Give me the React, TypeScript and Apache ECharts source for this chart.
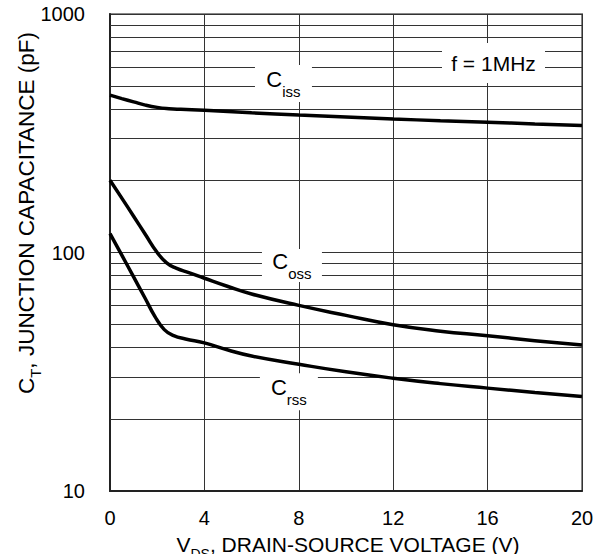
import React, { useEffect, useRef } from "react";
import * as echarts from "echarts";

const xTicks = [0, 4, 8, 12, 16, 20];
const yMajor = [10, 100, 1000];
const yMinor = [20, 30, 40, 50, 60, 70, 80, 90, 200, 300, 400, 500, 600, 700, 800, 900];

const cissX = [0, 0.5, 1, 1.5, 2, 2.5, 3, 4, 6, 8, 10, 12, 14, 16, 18, 20];
const cissY = [457, 442, 428, 415, 406, 401, 398.5, 395, 385, 377, 370, 363, 357, 352, 346, 341];

const cossX = [0, 0.5, 1, 1.5, 2, 2.4, 2.8, 3.4, 4, 5, 6, 8, 10, 12, 14, 16, 18, 20];
const cossY = [201, 169, 142, 119, 100, 90.5, 86, 82, 78, 72, 67, 60, 54.5, 49.8, 46.8, 44.8, 42.7, 40.9];

const crssX = [0, 0.5, 1, 1.5, 1.9, 2.3, 2.7, 3.2, 4, 5, 6, 8, 10, 12, 14, 16, 18, 20];
const crssY = [120, 97.5, 79, 64, 54, 47.5, 44.8, 43.4, 41.8, 39, 36.8, 34, 31.6, 29.7, 28.2, 27, 25.9, 24.9];

// annotation labels: [x, y] in data units
const labelCiss = [7.35, 511];
const labelCoss = [7.71, 88.2];
const labelCrss = [7.58, 26.1];
const labelFreq = [16.25, 623];

const zip = (xs: number[], ys: number[]) => xs.map((x, i) => [x, ys[i]]);

const subRich = {
  c: { fontSize: 22, lineHeight: 22, verticalAlign: "top", color: "#000", fontFamily: "Liberation Sans" },
  s: { fontSize: 15, lineHeight: 30, verticalAlign: "bottom", color: "#000", fontFamily: "Liberation Sans" },
};

function boxPoint(coord: number[], size: number[], text: string) {
  return {
    coord,
    symbol: "rect",
    symbolSize: size,
    itemStyle: { color: "#fff" },
    label: {
      show: true,
      position: "inside",
      formatter: text,
      rich: subRich,
      color: "#000",
      fontSize: 21,
      fontFamily: "Liberation Sans",
    },
  };
}

export default function App() {
  const ref = useRef<HTMLDivElement>(null);
  useEffect(() => {
    if (!ref.current) return;
    const chart = echarts.init(ref.current, undefined, { renderer: "svg" });
    const lineSeries = (name: string, data: number[][]) => ({
      name,
      type: "line",
      data,
      showSymbol: false,
      smooth: 0.5,
      lineStyle: { color: "#000", width: 3.5 },
      z: 3,
    });
    chart.setOption({
      animation: false,
      backgroundColor: "#fff",
      grid: {
        left: 110,
        right: 30,
        top: 14,
        bottom: 63,
        show: true,
        borderColor: "#888",
        borderWidth: 2,
      },
      xAxis: {
        type: "value",
        min: 0,
        max: 20,
        interval: 4,
        axisLine: { show: true, onZero: false, lineStyle: { color: "#222", width: 2 } },
        axisTick: { show: false },
        splitLine: { show: true, lineStyle: { color: "#333", width: 1 } },
        axisLabel: {
          color: "#000",
          fontSize: 20,
          fontFamily: "Liberation Sans",
          margin: 17,
          formatter: (v: number) => (xTicks.includes(v) ? String(v) : ""),
        },
      },
      yAxis: {
        type: "log",
        logBase: 10,
        min: 10,
        max: 1000,
        axisLine: { show: true, lineStyle: { color: "#222", width: 2 } },
        axisTick: { show: false },
        splitLine: { show: true, lineStyle: { color: "#333", width: 1 } },
        axisLabel: {
          color: "#000",
          fontSize: 20,
          fontFamily: "Liberation Sans",
          margin: 25,
          formatter: (v: number) => (yMajor.includes(Math.round(v)) ? String(Math.round(v)) : ""),
        },
      },
      graphic: [
        {
          type: "text",
          x: 29,
          y: 213,
          rotation: Math.PI / 2,
          style: {
            text: "{c|C}{s|T}{c|, JUNCTION CAPACITANCE (pF)}",
            align: "center",
            verticalAlign: "middle",
            rich: {
              c: { fontSize: 22.5, lineHeight: 22, verticalAlign: "top", fill: "#000", fontFamily: "Liberation Sans" },
              s: { fontSize: 15, lineHeight: 28, verticalAlign: "bottom", fill: "#000", fontFamily: "Liberation Sans" },
            },
          },
        },
        {
          type: "text",
          x: 348,
          y: 547,
          style: {
            text: "{c|V}{s|DS}{c|, DRAIN-SOURCE VOLTAGE (V)}",
            align: "center",
            verticalAlign: "middle",
            rich: {
              c: { fontSize: 21, lineHeight: 21, verticalAlign: "top", fill: "#000", fontFamily: "Liberation Sans" },
              s: { fontSize: 14, lineHeight: 27, verticalAlign: "bottom", fill: "#000", fontFamily: "Liberation Sans" },
            },
          },
        },
      ],
      series: [
        {
          name: "minor-grid",
          type: "line",
          data: [],
          z: 1,
          silent: true,
          markLine: {
            silent: true,
            symbol: "none",
            z: 1,
            label: { show: false },
            lineStyle: { color: "#333", width: 1, type: "solid" },
            data: yMinor.map((v) => ({ yAxis: v })),
          },
        },
        lineSeries("Ciss", zip(cissX, cissY)),
        lineSeries("Coss", zip(cossX, cossY)),
        lineSeries("Crss", zip(crssX, crssY)),
        {
          name: "labels",
          type: "line",
          data: [],
          z: 10,
          silent: true,
          markPoint: {
            silent: true,
            z: 10,
            data: [
              boxPoint(labelCiss, [57, 37], "{c|C}{s|iss}"),
              boxPoint(labelCoss, [60, 33], "{c|C}{s|oss}"),
              boxPoint(labelCrss, [58, 37], "{c|C}{s|rss}"),
              boxPoint(labelFreq, [103, 40], "f = 1MHz"),
            ],
          },
        },
      ],
    });
    return () => chart.dispose();
  }, []);
  return (
    <div
      ref={ref}
      style={{ position: "fixed", left: 0, top: 0, width: 612, height: 554, background: "#fff" }}
    />
  );
}
